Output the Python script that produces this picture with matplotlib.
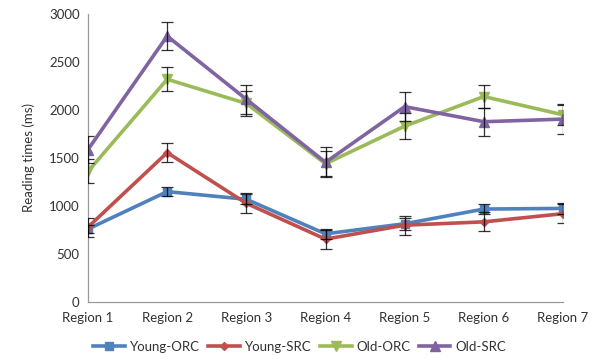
import matplotlib.pyplot as plt
import matplotlib

matplotlib.rcParams['font.family'] = ['Lato', 'DejaVu Sans']

regions = ['Region 1', 'Region 2', 'Region 3', 'Region 4', 'Region 5', 'Region 6', 'Region 7']

young_orc = [760, 1150, 1070, 710, 815, 968, 975]
young_orc_err = [40, 50, 50, 50, 60, 50, 55]
young_src = [780, 1556, 1028, 655, 800, 835, 920]
young_src_err = [100, 100, 105, 100, 100, 100, 100]
old_orc = [1360, 2320, 2068, 1440, 1832, 2140, 1950]
old_orc_err = [125, 125, 128, 130, 135, 120, 110]
old_src = [1588, 2770, 2112, 1455, 2035, 1878, 1905]
old_src_err = [145, 148, 150, 155, 148, 145, 150]

series = [
    ('Young-ORC', young_orc, young_orc_err, '#4F81BD', 's', 6),
    ('Young-SRC', young_src, young_src_err, '#C0504D', 'D', 4),
    ('Old-ORC', old_orc, old_orc_err, '#9BBB59', 'v', 7),
    ('Old-SRC', old_src, old_src_err, '#8064A2', '^', 7),
]

fig = plt.figure(figsize=(6.0, 3.59), dpi=100)
ax = fig.add_axes([88 / 600, 1 - 302 / 359, 475 / 600, 288 / 359])

x = list(range(len(regions)))
for name, vals, err, col, mk, ms in series:
    ax.plot(x, vals, color=col, lw=2.6, marker=mk, markersize=ms, label=name, zorder=3)
    ax.errorbar(x, vals, yerr=err, fmt='none', ecolor='black', elinewidth=0.9,
                capsize=4, capthick=0.9, zorder=4, alpha=0.8)

ax.set_xlim(0, 6)
ax.set_ylim(0, 3000)
ax.set_xticks(x)
ax.set_xticklabels(regions)
ax.set_yticks(range(0, 3001, 500))
ax.tick_params(length=0, labelsize=9.5, colors='#333333')
ax.tick_params(axis='x', pad=7)
ax.tick_params(axis='y', pad=6)
for s in ['top', 'right']:
    ax.spines[s].set_visible(False)
for s in ['left', 'bottom']:
    ax.spines[s].set_color('#999999')
    ax.spines[s].set_linewidth(0.9)
ax.set_ylabel('Reading times (ms)', fontsize=9.5, color='#333333', labelpad=10)

ax.legend(loc='center', bbox_to_anchor=(300 / 600, 1 - 347 / 359), bbox_transform=fig.transFigure,
          ncol=4, frameon=False, fontsize=9.5, handlelength=2.4, handletextpad=0.4,
          columnspacing=0.6, labelcolor='#333333')

fig.savefig('out.png', dpi=100)
